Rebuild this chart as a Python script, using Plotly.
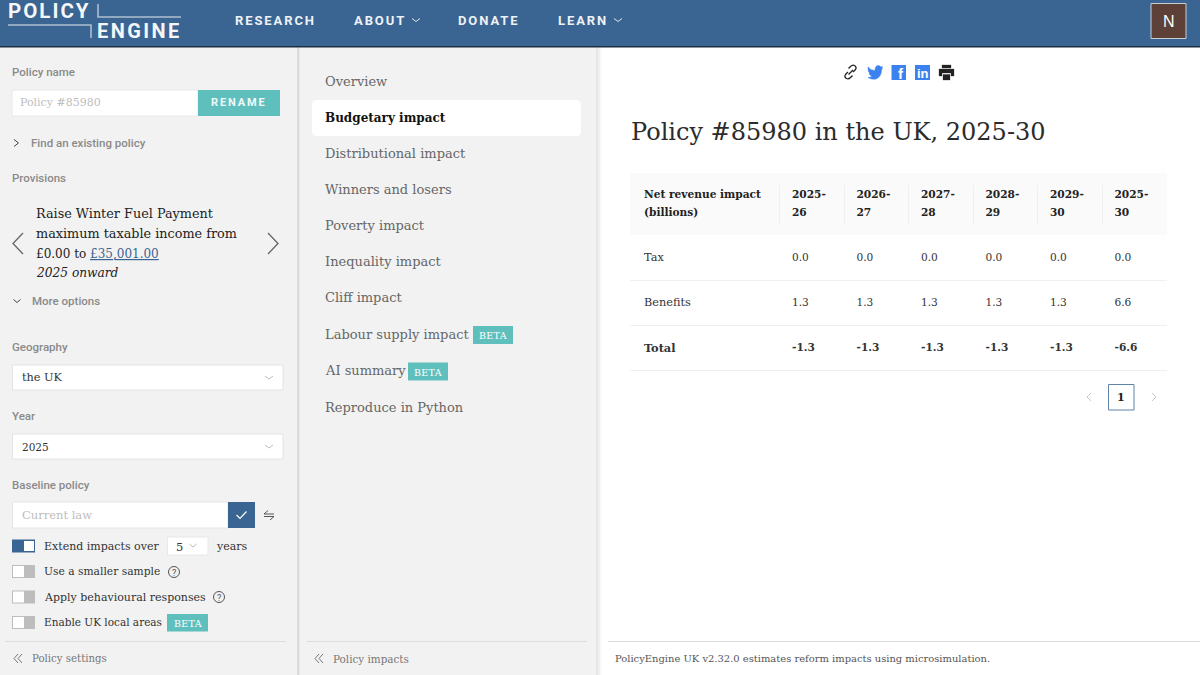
import plotly.graph_objects as go

SERIF = "DejaVu Serif"
SANS = "Roboto"
BLUE = "#3a6491"
TEAL = "#5fbfbd"
GREY = "#8a8a8a"

# table values (billions)
col_labels = ["2025-<br>26", "2026-<br>27", "2027-<br>28", "2028-<br>29", "2029-<br>30", "2025-<br>30"]
row_labels = ["<span>Tax</span>", "<span>Benefits</span>", "<b>Total</b>"]
tax = [0.0, 0.0, 0.0, 0.0, 0.0, 0.0]
benefits = [1.3, 1.3, 1.3, 1.3, 1.3, 6.6]
total = [-1.3, -1.3, -1.3, -1.3, -1.3, -6.6]

nav_items = ["RESEARCH", "ABOUT", "DONATE", "LEARN"]
nav_x = [235, 354, 458, 558]
impact_items = ["Overview", "Budgetary impact", "Distributional impact", "Winners and losers",
                "Poverty impact", "Inequality impact", "Cliff impact", "Labour supply impact",
                "AI summary", "Reproduce in Python"]
impact_y = [81, 117, 153, 189, 225, 261, 297, 334, 370, 407]

shapes = []
notes = []


def rect(x0, y0, x1, y1, fill, line=None, width=1):
    shapes.append(dict(type="rect", x0=x0, y0=y0, x1=x1, y1=y1, fillcolor=fill, layer="below",
                       line=dict(color=line or "rgba(0,0,0,0)", width=width if line else 0)))


def path(d, color="#555", width=1.2, fill=None):
    shapes.append(dict(type="path", path=d, fillcolor=fill or "rgba(0,0,0,0)", layer="above",
                       line=dict(color=color if width else "rgba(0,0,0,0)", width=width)))


def poly(pts, color="#555", width=1.2):
    path("M" + " L".join(f"{x},{y}" for x, y in pts), color, width)


def circle(cx, cy, r, color="#555", fill="rgba(0,0,0,0)", width=1):
    shapes.append(dict(type="circle", x0=cx - r, y0=cy - r, x1=cx + r, y1=cy + r, fillcolor=fill,
                       layer="above", line=dict(color=color, width=width)))


def label(x, y, text, size=12, color="#333", family=SERIF, weight=None, anchor="left", spacing=None, style=None):
    if spacing:
        text = f'<span style="letter-spacing:{spacing}px">{text}</span>'
    notes.append(dict(x=x, y=y, xref="x", yref="y", text=text, showarrow=False, xanchor=anchor, yanchor="middle",
                      borderpad=0, borderwidth=0,
                      font=dict(size=size, color=color, family=family, weight=weight, style=style)))


def chev_down(x, y, w=4, h=3, color="#bbb", width=1):
    poly([(x - w, y - h / 2), (x, y + h / 2), (x + w, y - h / 2)], color, width)


def beta(x0, y0, x1, y1):
    rect(x0, y0, x1, y1, TEAL)
    label((x0 + x1) / 2, (y0 + y1) / 2 + 0.5, "BETA", 9.5, "white", anchor="center", spacing=0.3)


def toggle(y, on=False):
    rect(12, y - 6.5, 35, y + 6.5, BLUE if on else "#bdbdbd")
    if on:
        rect(24, y - 5, 34, y + 5, "white")
    else:
        rect(13, y - 5.5, 24, y + 5.5, "white")


def qmark(cx, cy):
    circle(cx, cy, 5.5, "#555", width=1)
    label(cx, cy + 0.5, "?", 9, "#555", SANS, anchor="center")


# panels
rect(0, 47, 297, 675, "#f2f2f2")
rect(297, 47, 299, 675, "#dcdcdc")
rect(299, 47, 300.5, 675, "#e6e6e6")
rect(300.5, 47, 596, 675, "#f2f2f2")
rect(596, 47, 598, 675, "#e6e6e6")
rect(598, 47, 600, 675, "#f0f0f0")
rect(600, 47, 602, 675, "#f9f9f9")

# top bar
rect(0, 0, 1200, 46, BLUE)
rect(0, 46, 1200, 47.6, "#1d2f42")
label(8, 10.5, "POLICY", 20.5, "#f4f6f8", SANS, 700, spacing=2)
label(97, 31, "ENGINE", 20, "#f4f6f8", SANS, 700, spacing=2.4)
poly([(98, 4), (98, 17), (181, 17)], "#aebfd1", 1.6)
poly([(8, 25), (91, 25), (91, 38)], "#aebfd1", 1.6)
for name, x in zip(nav_items, nav_x):
    label(x, 20.5, name, 13, "#eef2f6", SANS, 700, spacing=1.9)
chev_down(416, 20, 4, 3, "#dfe6ee")
chev_down(618, 20, 4, 3, "#dfe6ee")
rect(1151, 3.5, 1186, 38.5, "#5d4037", "#c9ced4", 1)
label(1168.5, 21, "N", 16, "white", "Liberation Sans", anchor="center")

# left panel
label(12, 72, "Policy name", 11.5, GREY, SANS, 500)
rect(12, 90, 198, 116, "white", "#e8e8e8")
label(20, 102.5, "Policy #85980", 11, "#bdbdbd")
rect(198, 90, 280, 116, TEAL)
label(239, 102.5, "RENAME", 11, "#f1fafa", SANS, 700, anchor="center", spacing=1.9)
poly([(14, 139.5), (18.5, 143), (14, 146.5)], "#444", 1)
label(31, 143, "Find an existing policy", 11.5, GREY, SANS, 500)
label(12, 178, "Provisions", 11.5, GREY, SANS, 500)
label(36, 213.5, "Raise Winter Fuel Payment", 12.8, "#222")
label(36, 233.5, "maximum taxable income from", 12.8, "#222")
label(36, 253.5, '£0.00 to <a href="#" style="fill:#3a6491"><u>£35,001.00</u></a>', 12, "#222")
label(36, 272.5, "2025 onward", 12.2, "#222", style="italic")
poly([(23, 233), (13, 243.5), (23, 254)], "#666", 1.3)
poly([(268, 233), (278, 243.5), (268, 254)], "#666", 1.3)
chev_down(17, 301, 3.5, 3, "#444", 1)
label(32, 301, "More options", 11.5, GREY, SANS, 500)

label(12, 347, "Geography", 11.5, GREY, SANS, 500)
rect(12.5, 365, 283, 390, "white", "#e4e4e4")
label(22, 377.5, "the UK", 11.3, "#333")
chev_down(269, 377.5, 4, 3)
label(12, 415.5, "Year", 11.5, GREY, SANS, 500)
rect(12.5, 434, 283, 459, "white", "#e4e4e4")
label(22, 446.5, "2025", 10.5, "#333")
chev_down(269, 446.5, 4, 3)

label(12, 484.5, "Baseline policy", 11.5, GREY, SANS, 500)
rect(12.5, 502, 228, 528, "white", "#e4e4e4")
label(22, 515, "Current law", 11.5, "#bdbdbd")
rect(228, 502, 255, 528, BLUE)
poly([(236.5, 515), (240, 518.5), (246.5, 511.5)], "white", 1.2)
poly([(268, 510.5), (264, 514), (274, 514)], "#555", 1)
poly([(264, 516.5), (274, 516.5), (270, 520)], "#555", 1)

toggle(546, True)
label(44, 546, "Extend impacts over", 11, "#333")
rect(167.5, 537, 208, 555, "white", "#e8e8e8")
label(176, 546.5, "5", 11.5, "#333")
chev_down(193, 545.5, 3.5, 3)
label(216, 546, "years", 11, "#333")
toggle(571.5)
label(44, 571.5, "Use a smaller sample", 10.7, "#333")
qmark(174, 572)
toggle(597)
label(44, 597, "Apply behavioural responses", 11, "#333")
qmark(219, 597)
toggle(622.5)
label(44, 622, "Enable UK local areas", 10.5, "#333")
beta(167, 614, 208, 631.5)

rect(5, 641, 286, 642, "#dddddd")
poly([(18, 654), (14, 658.5), (18, 663)], "#777", 1)
poly([(22, 654), (18, 658.5), (22, 663)], "#777", 1)
label(32, 658.5, "Policy settings", 10.2, "#777")

# impact list
path("M317,100 H576 Q581,100 581,105 V131 Q581,136 576,136 H317 Q312,136 312,131 V105 Q312,100 317,100 Z",
     "white", 0, "white")
shapes[-1]["layer"] = "below"
for name, y in zip(impact_items, impact_y):
    if name == "Budgetary impact":
        label(325, y + 1, name, 12, "#111", weight=700)
    else:
        label(325, y, name, 13, "#666")
beta(473, 326, 513, 344)
beta(408, 362.5, 448, 380.5)
rect(307, 641, 587, 642, "#dddddd")
poly([(319, 654), (315, 658.5), (319, 663)], "#777", 1)
poly([(323, 654), (319, 658.5), (323, 663)], "#777", 1)
label(333, 658.5, "Policy impacts", 10.4, "#777")

# share icons
path("M848,72 L845.5,74.5 Q844,77 846.5,78.5 Q848.5,79.5 850.5,77.5 L852.5,75.5", "#222", 1.3)
path("M853,72 L855.5,69.5 Q857,67 854.5,65.5 Q852.5,64.5 850.5,66.5 L848.5,68.5", "#222", 1.3)
poly([(848.5, 74.5), (853, 70)], "#222", 1.3)
path("M868,67 Q871,70.5 875,70.5 Q875,65.5 878.5,65.5 Q880,65.5 881,67 L882.5,66.5 L881.5,68.5 L882.5,68 L881.5,70 "
     "Q881.5,76.5 876,79 Q871.5,80 868,77.5 Q870.5,77.5 872,76 Q869.5,75.5 869,73 L870,73 Q868,72 868,69.5 L869,70 Q867.5,69 868,67 Z",
     "#3b82f0", 0.5, "#3b82f0")
rect(891.5, 65, 906, 80, "#3b82f0")
label(900.5, 73.5, "f", 15, "white", "Liberation Sans", 700, anchor="center")
rect(915, 65, 930, 80, "#3b82f0")
label(922.5, 73, "in", 13, "white", "Liberation Sans", 700, anchor="center")
path("M942,65 H951 V68 H942 Z M939,69 H954 V76 H951 V73 H942 V76 H939 Z M943,74.5 H950 V80 H943 Z", "#222", 0.3, "#222")

# title
label(631, 132, "Policy #85980 in the UK, 2025-30", 24, "#2b2b2b")

# table background
rect(630, 173, 1167, 235, "#fafafa")
for x in [779, 844, 908, 973, 1037, 1102]:
    rect(x, 185, x + 1, 224, "#f0f0f0")
for y in [280, 325, 370]:
    rect(630, y, 1167, y + 1, "#f0f0f0")

# pagination
poly([(1091, 393), (1087, 397), (1091, 401)], "#c8c8c8", 1)
rect(1108.5, 384.5, 1134, 410, "white", "#5f84a8", 1)
label(1121, 397.5, "1", 11, "#222", weight=700, anchor="center")
poly([(1152, 393), (1156, 397), (1152, 401)], "#c8c8c8", 1)

# footer
rect(608, 641, 1200, 642, "#dddddd")
label(615, 658.5, "PolicyEngine UK v2.32.0 estimates reform impacts using microsimulation.", 9.95, "#555")


# every cell goes through a tag so the table lays them all out the same way
def fmt(values, tag="span"):
    return [f"<{tag}>{v:.1f}</{tag}>" for v in values]


# span size keeps the small glyphs while the nominal header font sets the 18px line gap
def small(text, size=10.6):
    return f'<span style="font-size:{size}px">{text}</span>'


fig = go.Figure()
fig.add_trace(go.Scatter(x=[], y=[], showlegend=False, hoverinfo="skip"))
fig.add_trace(go.Table(
    domain=dict(x=[636 / 1200, 1171.5 / 1200], y=[1 - 420 / 675, 1 - 180 / 675]),
    columnwidth=[148] + [64.5] * 6,
    header=dict(
        values=[small("<b>Net revenue impact<br>(billions)</b>")] + [small(f"<b>{c}</b>") for c in col_labels],
        height=63, align="left", fill_color="rgba(0,0,0,0)", line_color="rgba(0,0,0,0)",
        font=dict(family=SERIF, size=13.85, color="#222"),
    ),
    cells=dict(
        values=[row_labels] + [[a, b, c] for a, b, c in zip(fmt(tax), fmt(benefits), fmt(total, "b"))],
        height=45, align="left", fill_color="rgba(0,0,0,0)", line_color="rgba(0,0,0,0)",
        font=dict(family=SERIF, size=[11.3] + [10.6] * 6, color="#333"),
    ),
))
fig.update_layout(
    width=1200, height=675, margin=dict(l=0, r=0, t=0, b=0), paper_bgcolor="white", plot_bgcolor="white",
    showlegend=False, shapes=shapes, annotations=notes,
    xaxis=dict(range=[0, 1200], visible=False, fixedrange=True),
    yaxis=dict(range=[675, 0], visible=False, fixedrange=True),
)
fig.write_html("out.html", config=dict(displayModeBar=False), post_script="document.body.style.margin='0';")
